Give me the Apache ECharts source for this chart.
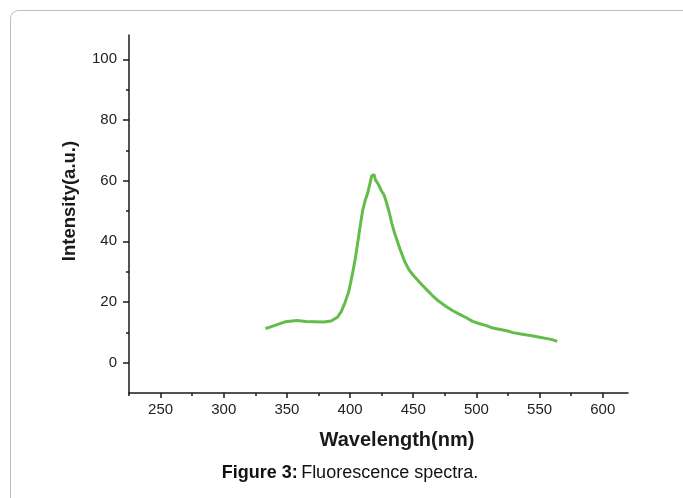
<!DOCTYPE html>
<html>
<head>
<meta charset="UTF-8" />
<title>Fluorescence spectra</title>
<script src="https://cdn.jsdelivr.net/npm/echarts@6/dist/echarts.min.js"></script>
<style>
  html, body { margin: 0; padding: 0; background: #fff; }
  #main { width: 683px; height: 498px; }
</style>
</head>
<body>
<div id="main"></div>
<script>
// spectrum
var wavelength = [333, 340, 349, 358, 365, 372, 379, 385, 390, 393, 396, 399, 402, 404, 406, 408, 410, 412, 414, 416, 417, 418, 419, 420, 421, 423, 425, 427, 429, 431, 433, 435, 437, 439, 441, 443, 445, 447, 450, 453, 457, 461, 465, 470, 476, 481, 486, 492, 497, 502, 508, 513, 518, 524, 529, 534, 540, 545, 550, 555, 560, 564]
var intensity = [11.2, 12.2, 13.5, 13.9, 13.6, 13.5, 13.4, 13.7, 15.0, 16.8, 19.8, 23.5, 29.5, 34.0, 39.4, 45.0, 50.3, 53.5, 56.0, 59.5, 61.5, 61.0, 62.0, 60.4, 60.8, 58.3, 56.5, 55.2, 52.5, 49.5, 46.0, 43.0, 40.6, 38.0, 35.8, 33.6, 31.9, 30.4, 28.8, 27.4, 25.6, 23.9, 22.2, 20.3, 18.5, 17.2, 16.1, 14.8, 13.6, 12.9, 12.2, 11.4, 11.0, 10.5, 9.9, 9.5, 9.1, 8.8, 8.4, 8.0, 7.6, 7.0]

var xMajor = [250, 300, 350, 400, 450, 500, 550, 600]
var xMinor = [225, 275, 325, 375, 425, 475, 525, 575]
var yMajor = [0, 20, 40, 60, 80, 100]
var yMinor = [10, 30, 50, 70, 90]

var chartData = wavelength.map(function (w, i) { return [w, intensity[i]] })

var myChart = echarts.init(document.getElementById('main'))
var axisColor = '#1a1a1a'
var font = 'Liberation Sans, Arial, sans-serif'

var option = {
  backgroundColor: '#fff',
  animation: false,
  grid: { left: 129, right: 55, top: 35, bottom: 105 },
  xAxis: [{
    type: 'value', min: 225, max: 620, position: 'bottom',
    axisLine: { onZero: false, lineStyle: { color: axisColor, width: 1.5 } },
    axisTick: { customValues: xMajor, length: 5, lineStyle: { color: axisColor, width: 1.5 } },
    axisLabel: { customValues: xMajor, margin: 9, fontSize: 15, color: '#222', fontFamily: font },
    splitLine: { show: false }
  }, {
    type: 'value', min: 225, max: 620, position: 'bottom', offset: 0,
    axisLine: { show: false, onZero: false },
    axisTick: { customValues: xMinor, length: 3, lineStyle: { color: axisColor, width: 1.5 } },
    axisLabel: { show: false },
    splitLine: { show: false }
  }],
  yAxis: [{
    type: 'value', min: -10, max: 108, position: 'left',
    axisLine: { show: true, onZero: false, lineStyle: { color: axisColor, width: 1.5 } },
    axisTick: { show: true, customValues: yMajor, length: 6, lineStyle: { color: axisColor, width: 1.5 } },
    axisLabel: { customValues: yMajor, margin: 12, fontSize: 15, color: '#222', fontFamily: font },
    splitLine: { show: false }
  }, {
    type: 'value', min: -10, max: 108, position: 'left', offset: 0,
    axisLine: { show: false, onZero: false },
    axisTick: { show: true, customValues: yMinor, length: 3, lineStyle: { color: axisColor, width: 1.5 } },
    axisLabel: { show: false },
    splitLine: { show: false }
  }],
  graphic: [{
    type: 'rect', silent: true, z: -1,
    shape: { x: 10.5, y: 10.5, width: 700, height: 520, r: 8 },
    style: { fill: 'none', stroke: '#bdbdbd', lineWidth: 1 }
  }, {
    type: 'text', x: 70, y: 201, rotation: Math.PI / 2,
    style: { text: 'Intensity(a.u.)', font: 'bold 18.5px ' + font, fill: '#1a1a1a', align: 'center', verticalAlign: 'middle' }
  }, {
    type: 'text', x: 397, y: 440,
    style: { text: 'Wavelength(nm)', font: 'bold 20px ' + font, fill: '#1a1a1a', align: 'center', verticalAlign: 'middle' }
  }, {
    type: 'text', x: 350, y: 473,
    style: {
      text: '{b|Figure 3:} {n|Fluorescence spectra.}',
      align: 'center', verticalAlign: 'middle',
      rich: {
        b: { fontWeight: 'bold', fontSize: 18, fontFamily: font, fill: '#111' },
        n: { fontSize: 18, fontFamily: font, fill: '#111' }
      }
    }
  }],
  series: [{
    name: 'Fluorescence',
    type: 'line',
    xAxisIndex: 0,
    yAxisIndex: 0,
    data: chartData,
    showSymbol: false,
    smooth: false,
    lineStyle: { color: '#62bd4a', width: 3 }
  }]
}
myChart.setOption(option)
</script>
</body>
</html>
